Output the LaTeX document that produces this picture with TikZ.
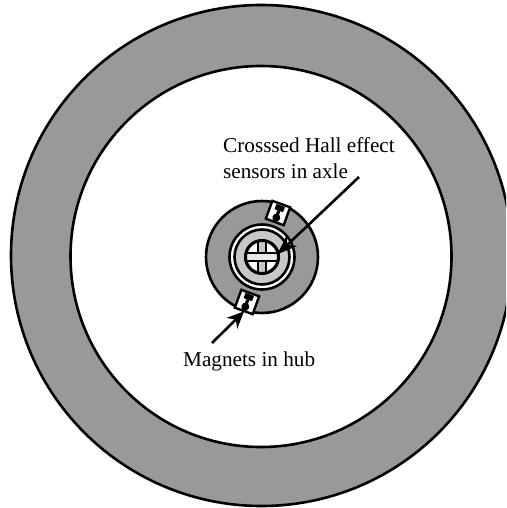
\documentclass[tikz,border=0pt]{standalone}
\usepackage{fontspec}
\setmainfont{Liberation Serif}
\usetikzlibrary{arrows.meta}

\begin{document}
\begin{tikzpicture}[
  x=1pt,y=-1pt,
  disc/.style={circle,draw=black,line width=2.6pt,inner sep=0pt,outer sep=0pt},
  magnet/.style={rectangle,draw=black,fill=white,line width=2.4pt,inner sep=0pt,
    minimum width=19pt,minimum height=19pt,rotate=-20},
  caption/.style={align=left,inner sep=0pt,font=\fontsize{21.2}{25.6}\selectfont},
  arrow/.style={-{Stealth[length=20pt,width=15pt]},line width=2.6pt,shorten >=-1pt}
]
\useasboundingbox (0,0) rectangle (506,508);
\clip (0,0) rectangle (506,508);
\definecolor{rimgray}{gray}{0.6}
\definecolor{coregray}{gray}{0.78}

\node[disc,fill=rimgray,minimum size=501pt] (rim) at (261.5,255.5) {};
\node[disc,fill=white,minimum size=381pt] (wheel) at (261,256.5) {};
\node[disc,fill=rimgray,minimum size=112pt] (hub) at (262,257) {};
\node[disc,fill=white,minimum size=65pt] (bearing) at (262,257) {};
\node[disc,fill=coregray,minimum size=55pt] (core) at (262,257) {};

% Magnets sit on the edge of the hub.
\foreach \name/\px/\py in {magnettop/278/213,magnetbottom/247/302}{
  \node[magnet] (\name) at (\px,\py) {};
  \begin{scope}[shift={(\name.center)},rotate=-20]
    \fill (-4.5,-8) rectangle (4.5,-2.5);
    \fill (-1.6,-2.5) rectangle (1.6,3);
    \fill (0,5) circle (4);
  \end{scope}
}

% Crossed sensors inside the axle.
\node[disc,fill=white,minimum size=33pt] (axle) at (262,257) {};
\begin{scope}
  \clip (262,257) circle (16);
  \draw[line width=2.2pt,fill=coregray] (258,238) rectangle (266,276);
  \draw[line width=2.2pt,fill=coregray!40] (244,253) rectangle (280,261);
\end{scope}
\node[disc,line width=3pt,minimum size=33pt] (axlerim) at (262,257) {};

\node[caption,anchor=base west] (hall) at (223,178.3) {Crosssed Hall effect\\sensors in axle};
\node[caption,anchor=base west] (magnets) at (183,366.7) {Magnets in hub};

\coordinate (halltail) at (359,177);
\coordinate (magtail) at (212,343);
\draw[arrow] (halltail) -- (axle.12);
\draw[arrow,-{Stealth[length=17pt,width=15pt]}] (magtail) -- (magnetbottom.south);
\end{tikzpicture}
\end{document}
